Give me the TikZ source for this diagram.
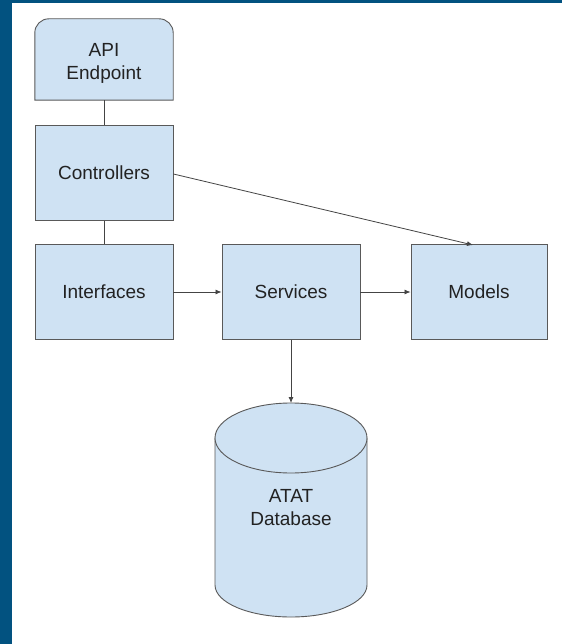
\documentclass[tikz,border=0pt]{standalone}
\usepackage{fontspec}
\setmainfont{Liberation Sans}
\usetikzlibrary{arrows.meta}
\definecolor{framebl}{RGB}{2,82,128}
\definecolor{boxfill}{HTML}{CFE2F3}
\definecolor{boxline}{HTML}{595959}
\definecolor{conn}{HTML}{444444}
\definecolor{txt}{HTML}{222222}
\tikzset{
  comp/.style={rectangle, draw=boxline, fill=boxfill, line width=0.9pt, minimum width=138pt, minimum height=95pt, inner sep=0pt, text=txt, font=\fontsize{19}{23}\selectfont, align=center},
  lbl/.style={inner sep=0pt, text=txt, font=\fontsize{19}{23}\selectfont, align=center},
  link/.style={draw=conn, line width=0.8pt},
  arr/.style={draw=conn, line width=0.8pt, -{Latex[length=6pt,width=5pt]}},
  dbshape/.style={draw=boxline, fill=boxfill, line width=0.9pt}
}
\begin{document}
\begin{tikzpicture}[x=1pt,y=-1pt]
\useasboundingbox (0,0) rectangle (562,644);
\fill[white] (0,0) rectangle (562,644);
\fill[framebl] (0,0) rectangle (11.5,644);
\fill[framebl] (0,0) rectangle (562,3);

% API endpoint box (rounded top corners)
\node[lbl, minimum width=138pt, minimum height=81pt] (apibox) at (104,59.5) {};
\path[dbshape] (apibox.south west) [rounded corners=14pt] -- (apibox.north west) -- (apibox.north east) [sharp corners] -- (apibox.south east) -- cycle;
\node[lbl] (api) at (104,63) {API\\Endpoint};

\node[comp] (ctrl) at (104,173) {Controllers};
\node[comp] (intf) at (104,292) {Interfaces};
\node[comp] (serv) at (291,292) {Services};
\node[comp, minimum width=136pt] (models) at (479,292) {Models};

% database cylinder
\path[dbshape] (215,438) -- (215,585) .. controls (215,602.7) and (249,617) .. (291,617) .. controls (333,617) and (367,602.7) .. (367,585) -- (367,438) -- cycle;
\path[dbshape] (291,438) ellipse [x radius=76, y radius=35];
\coordinate (dbtop) at (291,403);
\node[lbl] (db) at (291,508) {ATAT\\Database};

% connectors
\draw[link] (apibox.south) -- (ctrl.north);
\draw[link] (ctrl.south) -- (intf.north);
\coordinate (modtop) at (473,245);
\draw[arr] (ctrl.east |- 0,174) -- (modtop);
\draw[arr] (intf.east) -- (serv.west);
\draw[arr] (serv.east) -- (models.west);
\draw[arr] (serv.south) -- (dbtop);
\end{tikzpicture}
\end{document}
